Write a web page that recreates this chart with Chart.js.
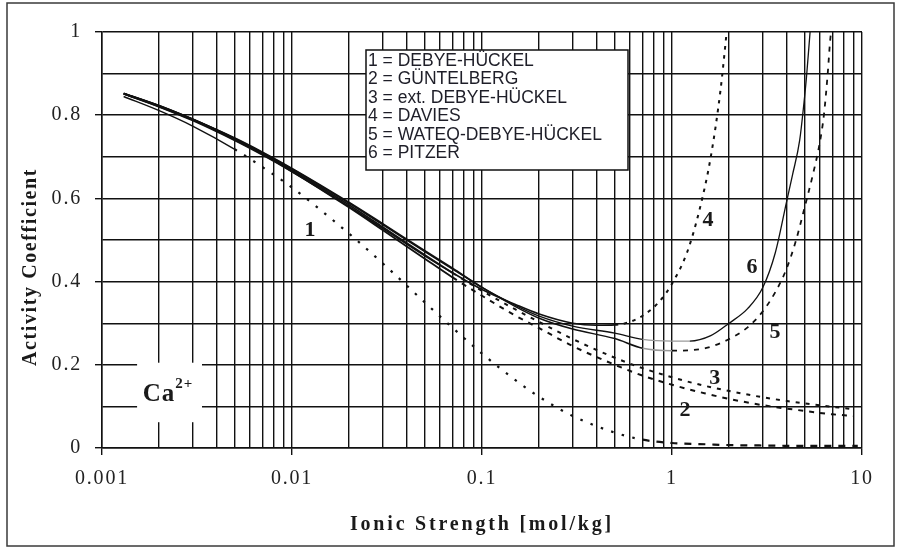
<!DOCTYPE html>
<html>
<head>
<meta charset="utf-8">
<script src="https://cdn.jsdelivr.net/npm/chart.js@4/dist/chart.umd.min.js"></script>
<style>
  html, body { margin: 0; padding: 0; background: #fff; }
  canvas { display: block; }
</style>
</head>
<body>
<canvas id="chart" width="899" height="548"></canvas>
<script>
// Activity coefficient of Ca2+ versus ionic strength for six models

// 1 = Debye-Hückel
const ionicDH = [0.0013, 0.002, 0.003, 0.005, 0.007, 0.01, 0.02, 0.03, 0.05, 0.07, 0.1, 0.15, 0.2, 0.3, 0.5, 0.7, 1, 1.5, 2, 3, 5, 7, 9.5];
const gammaDH = [0.845, 0.811, 0.774, 0.718, 0.675, 0.626, 0.515, 0.444, 0.350, 0.289, 0.227, 0.163, 0.123, 0.077, 0.037, 0.020, 0.012, 0.009, 0.007, 0.006, 0.005, 0.005, 0.005];

// 2 = Güntelberg
const ionicGuntelberg = [0.0013, 0.002, 0.003, 0.005, 0.007, 0.01, 0.02, 0.03, 0.05, 0.07, 0.1, 0.15, 0.2, 0.3, 0.5, 0.7, 1, 1.5, 2, 3, 5, 7, 9];
const gammaGuntelberg = [0.852, 0.821, 0.789, 0.741, 0.706, 0.665, 0.578, 0.524, 0.455, 0.410, 0.366, 0.318, 0.288, 0.245, 0.200, 0.174, 0.152, 0.131, 0.118, 0.103, 0.089, 0.081, 0.077];

// 3 = extended Debye-Hückel
const ionicExtDH = [0.0013, 0.002, 0.003, 0.005, 0.007, 0.01, 0.02, 0.03, 0.05, 0.07, 0.1, 0.15, 0.2, 0.3, 0.5, 0.7, 1, 1.5, 2, 3, 5, 7, 9];
const gammaExtDH = [0.852, 0.822, 0.790, 0.743, 0.708, 0.668, 0.584, 0.531, 0.464, 0.421, 0.378, 0.333, 0.303, 0.262, 0.217, 0.192, 0.170, 0.149, 0.137, 0.122, 0.107, 0.099, 0.093];

// 4 = Davies
const ionicDavies = [0.0013, 0.002, 0.003, 0.005, 0.007, 0.01, 0.02, 0.03, 0.05, 0.07, 0.1, 0.15, 0.2, 0.3, 0.4, 0.5, 0.6, 0.7, 0.85, 1, 1.2, 1.4, 1.6, 1.8, 1.95];
const gammaDavies = [0.851, 0.820, 0.787, 0.739, 0.704, 0.664, 0.580, 0.528, 0.462, 0.421, 0.381, 0.345, 0.322, 0.300, 0.295, 0.296, 0.303, 0.318, 0.350, 0.395, 0.470, 0.575, 0.700, 0.860, 1.010];

// 5 = WATEQ-Debye-Hückel
const ionicWateq = [0.0013, 0.002, 0.003, 0.005, 0.007, 0.01, 0.02, 0.03, 0.05, 0.07, 0.1, 0.15, 0.2, 0.3, 0.5, 0.7, 1, 1.5, 2, 2.5, 3, 3.5, 4, 4.5, 5, 5.5, 6, 6.3, 6.6, 6.8, 7];
const gammaWateq = [0.853, 0.823, 0.791, 0.744, 0.710, 0.671, 0.588, 0.537, 0.472, 0.430, 0.386, 0.340, 0.312, 0.286, 0.263, 0.240, 0.234, 0.240, 0.262, 0.290, 0.328, 0.375, 0.430, 0.500, 0.580, 0.655, 0.735, 0.800, 0.900, 0.980, 1.030];

// 6 = Pitzer
const ionicPitzer = [0.0013, 0.002, 0.003, 0.005, 0.007, 0.01, 0.02, 0.03, 0.05, 0.07, 0.1, 0.15, 0.2, 0.3, 0.5, 0.7, 1, 1.24, 1.6, 2, 2.5, 3, 3.5, 4, 4.3, 4.7, 4.95, 5.1, 5.33, 5.45];
const gammaPitzer = [0.852, 0.823, 0.790, 0.745, 0.711, 0.672, 0.590, 0.539, 0.474, 0.432, 0.386, 0.343, 0.317, 0.293, 0.276, 0.261, 0.257, 0.257, 0.270, 0.300, 0.335, 0.385, 0.470, 0.590, 0.655, 0.740, 0.830, 0.890, 1.000, 1.050];

// Axis ticks
const xDecades = [0.001, 0.01, 0.1, 1, 10];
const xTickLabels = ['0.001', '0.01', '0.1', '1', '10'];
const yTickValues = [0, 0.2, 0.4, 0.6, 0.8, 1];
const yTickLabels = ['0', '0.2', '0.4', '0.6', '0.8', '1'];

// Texts
const legendLines = ['1 = DEBYE-HÜCKEL', '2 = GÜNTELBERG', '3 = ext. DEBYE-HÜCKEL', '4 = DAVIES', '5 = WATEQ-DEBYE-HÜCKEL', '6 = PITZER'];
const curveTags = ['1', '2', '3', '4', '5', '6'];
const curveTagAt = [[0.01245, 0.524], [1.17, 0.091], [1.68, 0.168], [1.547, 0.548], [3.48, 0.279], [2.64, 0.435]];
const xTitle = 'Ionic Strength [mol/kg]';
const yTitle = 'Activity Coefficient';

// ---- helpers ----
const INK = '#111';
const SERIF = '"Liberation Serif", "Times New Roman", serif';
const SANS = '"Liberation Sans", Arial, sans-serif';

const xGrid = [];
xDecades.forEach((d, i) => {
  if (i === xDecades.length - 1) { xGrid.push(d); return; }
  for (let m = 1; m <= 9; m++) xGrid.push(parseFloat((d * m).toPrecision(6)));
});
const yGrid = [];
for (let k = 0; k <= 10; k++) yGrid.push(k / 10);

const near = (a, b) => Math.abs(a - b) <= 1e-9 + Math.abs(b) * 1e-6;
const xLabelFor = v => { const i = xDecades.findIndex(d => near(v, d)); return i < 0 ? '' : xTickLabels[i]; };
const yLabelFor = v => { const i = yTickValues.findIndex(d => near(v, d)); return i < 0 ? '' : yTickLabels[i]; };

const pts = (xs, ys) => xs.map((x, i) => ({ x, y: ys[i] }));

// segment style: solid before `from`, dashed afterwards (optionally second pattern after `from2`)
function dashStyle(from, dash, from2, dash2) {
  return ctx => {
    const x = ctx.p0.parsed.x;
    if (from2 !== undefined && x >= from2 - 1e-12) return dash2;
    return x >= from - 1e-12 ? dash : [];
  };
}
// heavier stroke where a curve runs inside the common bundle
function widthStyle(until, heavy, light) {
  return ctx => (ctx.p0.parsed.x < until - 1e-12 ? heavy : light);
}
function greyBetween(a, b) {
  return ctx => {
    const x = ctx.p0.parsed.x;
    return (x >= a - 1e-12 && x < b - 1e-12) ? '#9a9a9a' : INK;
  };
}

function curve(label, xs, ys, width, segment) {
  return {
    label,
    data: pts(xs, ys),
    borderColor: INK,
    borderWidth: width,
    pointRadius: 0,
    pointHoverRadius: 0,
    fill: false,
    clip: 0,
    tension: 0,
    cubicInterpolationMode: 'monotone',
    segment
  };
}

const datasets = [
  curve('1', ionicDH, gammaDH, 2.2, { borderDash: dashStyle(0.005, [2.5, 8.5], 0.7, [7, 7]), borderWidth: widthStyle(0.005, 1.4, 2.2) }),
  curve('2', ionicGuntelberg, gammaGuntelberg, 2, { borderDash: dashStyle(0.07, [5, 6]), borderWidth: widthStyle(0.07, 1.8, 2) }),
  curve('3', ionicExtDH, gammaExtDH, 2, { borderDash: dashStyle(0.07, [4, 6]), borderWidth: widthStyle(0.07, 1.8, 2) }),
  curve('4', ionicDavies, gammaDavies, 1.6, { borderDash: dashStyle(0.5, [3.5, 5.5]), borderWidth: widthStyle(0.5, 1.6, 2) }),
  curve('5', ionicWateq, gammaWateq, 1.5, { borderDash: dashStyle(1, [5, 6]), borderColor: greyBetween(0.7, 1), borderWidth: widthStyle(1, 1.5, 1.8) }),
  curve('6', ionicPitzer, gammaPitzer, 1.3, { borderColor: greyBetween(0.7, 1.24), borderWidth: widthStyle(0.1, 1.8, 1.3) })
];

const decorations = {
  id: 'decorations',
  beforeDraw(chart) {
    const c = chart.ctx;
    c.save();
    c.fillStyle = '#fff';
    c.fillRect(0, 0, chart.width, chart.height);
    c.restore();
    c.letterSpacing = '1.8px';
  },
  beforeDatasetsDraw(chart) {
    const c = chart.ctx, xs = chart.scales.x, ys = chart.scales.y;
    // white panel with the ion symbol
    const x0 = xs.getPixelForValue(0.00153), x1 = xs.getPixelForValue(0.00336);
    const y0 = ys.getPixelForValue(0.205), y1 = ys.getPixelForValue(0.062);
    c.save();
    c.letterSpacing = '1px';
    c.fillStyle = '#fff';
    c.fillRect(x0, y0, x1 - x0, y1 - y0);
    c.fillStyle = '#1a1a1a';
    c.textBaseline = 'alphabetic';
    c.textAlign = 'left';
    c.font = 'bold 25px ' + SERIF;
    const bx = xs.getPixelForValue(0.00164), by = ys.getPixelForValue(0.113);
    c.fillText('Ca', bx, by);
    const w = c.measureText('Ca').width;
    c.font = 'bold 15px ' + SERIF;
    c.fillText('2+', bx + w, by - 13);
    c.restore();
  },
  afterDatasetsDraw(chart) {
    const c = chart.ctx, xs = chart.scales.x, ys = chart.scales.y;
    // legend box
    c.save();
    c.letterSpacing = '0px';
    c.fillStyle = '#fff';
    c.fillRect(366, 50, 262, 120);
    c.strokeStyle = INK;
    c.lineWidth = 1.5;
    c.strokeRect(366, 50, 262, 120);
    c.fillStyle = '#1e1e28';
    c.font = '17.5px ' + SANS;
    c.textAlign = 'left';
    c.textBaseline = 'alphabetic';
    legendLines.forEach((t, i) => c.fillText(t, 368, 66 + i * 18.46));
    // curve numbers
    c.font = 'bold 22px ' + SERIF;
    c.textAlign = 'center';
    c.textBaseline = 'middle';
    c.fillStyle = '#1a1a1a';
    curveTags.forEach((t, i) => {
      c.fillText(t, xs.getPixelForValue(curveTagAt[i][0]), ys.getPixelForValue(curveTagAt[i][1]));
    });
    c.restore();
  },
  afterDraw(chart) {
    const c = chart.ctx, area = chart.chartArea;
    c.save();
    c.fillStyle = '#1a1a1a';
    c.font = 'bold 20px ' + SERIF;
    c.textAlign = 'center';
    c.textBaseline = 'alphabetic';
    c.letterSpacing = '2.8px';
    c.fillText(xTitle, (area.left + area.right) / 2, 530);
    c.letterSpacing = '1.6px';
    c.translate(36, 267);
    c.rotate(-Math.PI / 2);
    c.fillText(yTitle, 0, 0);
    c.restore();
    // outer frame
    c.save();
    c.letterSpacing = '0px';
    c.strokeStyle = '#3a3a3a';
    c.lineWidth = 1.5;
    c.strokeRect(7, 3, 887, 543);
    c.restore();
  }
};

new Chart(document.getElementById('chart'), {
  type: 'line',
  data: { datasets },
  plugins: [decorations],
  options: {
    responsive: false,
    animation: false,
    devicePixelRatio: 1,
    events: [],
    layout: { padding: { left: 0, right: 37, top: 32, bottom: 0 } },
    plugins: { legend: { display: false }, tooltip: { enabled: false }, title: { display: false } },
    scales: {
      x: {
        type: 'logarithmic',
        min: 0.001,
        max: 10,
        afterBuildTicks: s => { s.ticks = xGrid.map(v => ({ value: v })); },
        afterFit: s => { s.height = 100; },
        ticks: {
          autoSkip: false, maxRotation: 0, minRotation: 0, padding: 12,
          color: '#222',
          font: { family: SERIF, size: 20 },
          callback: v => xLabelFor(v)
        },
        grid: {
          color: INK, lineWidth: 1.4, tickLength: 7,
          tickColor: ctx => (ctx.tick && xLabelFor(ctx.tick.value)) ? INK : 'rgba(0,0,0,0)'
        },
        border: { color: INK, width: 1.5 }
      },
      y: {
        type: 'linear',
        min: 0,
        max: 1,
        afterBuildTicks: s => { s.ticks = yGrid.map(v => ({ value: v })); },
        afterFit: s => { s.width = 102; },
        ticks: {
          autoSkip: false, padding: 13,
          color: '#222',
          font: { family: SERIF, size: 20 },
          callback: v => yLabelFor(v)
        },
        grid: {
          color: INK, lineWidth: 1.4, tickLength: 7,
          tickColor: ctx => (ctx.tick && yLabelFor(ctx.tick.value)) ? INK : 'rgba(0,0,0,0)'
        },
        border: { color: INK, width: 1.5 }
      }
    }
  }
});
</script>
</body>
</html>
